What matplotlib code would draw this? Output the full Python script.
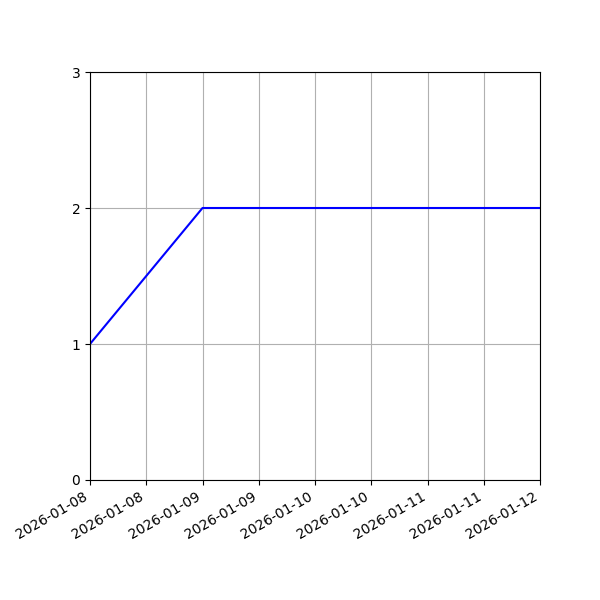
import matplotlib
matplotlib.use("Agg")
import matplotlib.pyplot as plt
import matplotlib.dates as mdates
import numpy as np
import datetime as dt

dates = [dt.datetime(2026, 1, 8), dt.datetime(2026, 1, 9), dt.datetime(2026, 1, 10),
         dt.datetime(2026, 1, 11), dt.datetime(2026, 1, 12)]
values = [1, 2, 2, 2, 2]
y_ticks = [0, 1, 2, 3]

fig, ax = plt.subplots(figsize=(6, 6), dpi=100)
ax.plot(dates, values, color="blue")
ax.set_xlim(dates[0], dates[-1])
ax.set_ylim(0, 3)
ax.set_yticks(y_ticks)
ax.xaxis.set_major_locator(mdates.HourLocator(byhour=[0, 12]))
ax.xaxis.set_major_formatter(mdates.DateFormatter("%Y-%m-%d"))
ax.grid(True)
fig.autofmt_xdate()
fig.subplots_adjust(left=0.15, right=0.9, top=0.88, bottom=0.2)
fig.savefig("out.png", dpi=100)
